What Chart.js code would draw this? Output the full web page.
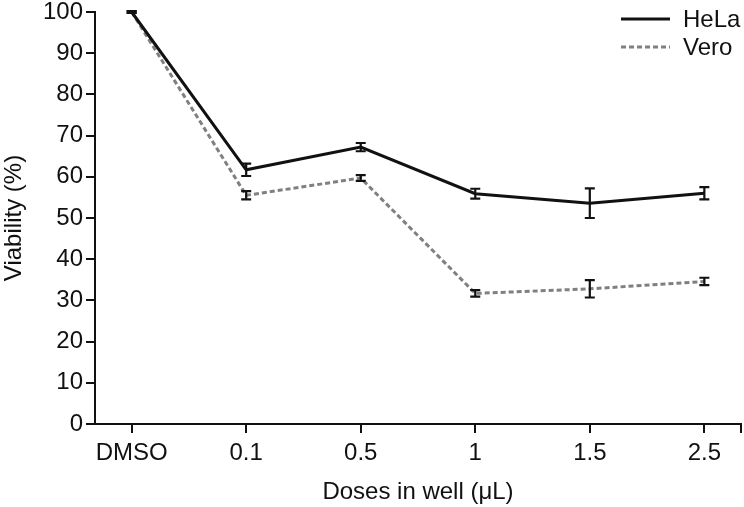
<!DOCTYPE html>
<html>
<head>
<meta charset="utf-8">
<script src="https://cdn.jsdelivr.net/npm/chart.js@4/dist/chart.umd.min.js"></script>
<style>
html,body{margin:0;padding:0;background:#fff;}
#wrap{width:744px;height:507px;position:relative;}
</style>
</head>
<body>
<div id="wrap"><canvas id="c" width="744" height="507"></canvas></div>
<script>
const categories = ["DMSO", "0.1", "0.5", "1", "1.5", "2.5"];
const helaValues = [100, 61.7, 67.2, 55.9, 53.6, 56.0];
const helaErrors = [0.2, 1.5, 1.0, 1.2, 3.6, 1.5];
const veroValues = [100, 55.5, 59.7, 31.7, 32.8, 34.6];
const veroErrors = [0.2, 1.0, 0.7, 0.8, 2.1, 0.9];
const yTicks = [0, 10, 20, 30, 40, 50, 60, 70, 80, 90, 100];

const FONT = "'Liberation Sans', Arial, sans-serif";
const FS = 24;

const errorBarPlugin = {
  id: 'errorBars',
  afterDatasetsDraw(chart) {
    const ctx = chart.ctx;
    const ys = chart.scales.y;
    ctx.save();
    chart.data.datasets.forEach((ds, i) => {
      const meta = chart.getDatasetMeta(i);
      const errs = ds.errors || [];
      meta.data.forEach((pt, j) => {
        const v = ds.data[j].y, e = errs[j] || 0;
        const x = pt.x;
        const yt = ys.getPixelForValue(v + e);
        const yb = ys.getPixelForValue(v - e);
        ctx.strokeStyle = '#111';
        ctx.lineWidth = 2.2;
        ctx.setLineDash([]);
        ctx.beginPath();
        ctx.moveTo(x, yt); ctx.lineTo(x, yb);
        ctx.moveTo(x - 5, yt); ctx.lineTo(x + 5, yt);
        ctx.moveTo(x - 5, yb); ctx.lineTo(x + 5, yb);
        ctx.stroke();
      });
    });
    ctx.restore();
  }
};

const legendPlugin = {
  id: 'customLegend',
  afterDraw(chart) {
    const ctx = chart.ctx;
    const ca = chart.chartArea;
    ctx.save();
    const x0 = ca.right - 120, x1 = ca.right - 71, tx = ca.right - 58;
    const rows = [ca.top + 7, ca.top + 35];
    chart.data.datasets.forEach((ds, i) => {
      const y = rows[i];
      ctx.strokeStyle = ds.borderColor;
      ctx.lineWidth = ds.borderWidth;
      ctx.setLineDash(ds.borderDash || []);
      ctx.beginPath();
      ctx.moveTo(x0, y); ctx.lineTo(x1, y);
      ctx.stroke();
      ctx.setLineDash([]);
      ctx.fillStyle = '#111';
      ctx.font = FS + 'px ' + FONT;
      ctx.textBaseline = 'middle';
      ctx.textAlign = 'left';
      ctx.fillText(ds.label, tx, y + 1);
    });
    ctx.restore();
  }
};

const toPts = vals => vals.map((v, i) => ({x: i, y: v}));

new Chart(document.getElementById('c'), {
  type: 'line',
  data: {
    datasets: [
      {label: 'HeLa', data: toPts(helaValues), errors: helaErrors, borderColor: '#111', borderWidth: 3,
       pointRadius: 0, tension: 0, clip: false, fill: false},
      {label: 'Vero', data: toPts(veroValues), errors: veroErrors, borderColor: '#808080', borderWidth: 3,
       borderDash: [5, 3], pointRadius: 0, tension: 0, clip: false, fill: false}
    ]
  },
  options: {
    responsive: false,
    animation: false,
    devicePixelRatio: 1,
    layout: {padding: {top: 12, right: 3, left: 0, bottom: 0}},
    plugins: {legend: {display: false}, tooltip: {enabled: false}},
    scales: {
      x: {
        type: 'linear',
        min: -0.32,
        max: 5.32,
        afterBuildTicks(scale) {
          const t = categories.map((_, i) => ({value: i}));
          t.push({value: 5.32});
          scale.ticks = t;
        },
        afterFit(scale) { scale.height = 83; scale.paddingLeft = 0; scale.paddingRight = 0; },
        ticks: {
          autoSkip: false,
          maxRotation: 0,
          padding: 6,
          color: '#111',
          font: {family: FONT, size: FS},
          callback: (v) => (Number.isInteger(v) && categories[v] !== undefined) ? categories[v] : ''
        },
        grid: {drawOnChartArea: false, drawTicks: true, tickLength: 9, color: '#111', lineWidth: 2},
        border: {display: true, color: '#111', width: 2},
        title: {display: true, text: 'Doses in well (\u03bcL)', color: '#111', font: {family: FONT, size: FS}, padding: {top: 1, bottom: 0}}
      },
      y: {
        min: 0,
        max: 100,
        afterBuildTicks(scale) { scale.ticks = yTicks.map(v => ({value: v})); },
        afterFit(scale) { scale.width = 95; scale.paddingTop = 0; scale.paddingBottom = 0; },
        ticks: {color: '#111', padding: 3, font: {family: FONT, size: FS}},
        grid: {drawOnChartArea: false, drawTicks: true, tickLength: 9, color: '#111', lineWidth: 2},
        border: {display: true, color: '#111', width: 2},
        title: {display: true, text: 'Viability (%)', color: '#111', font: {family: FONT, size: FS}, padding: {top: 0, bottom: 0}}
      }
    }
  },
  plugins: [errorBarPlugin, legendPlugin]
});
</script>
</body>
</html>
